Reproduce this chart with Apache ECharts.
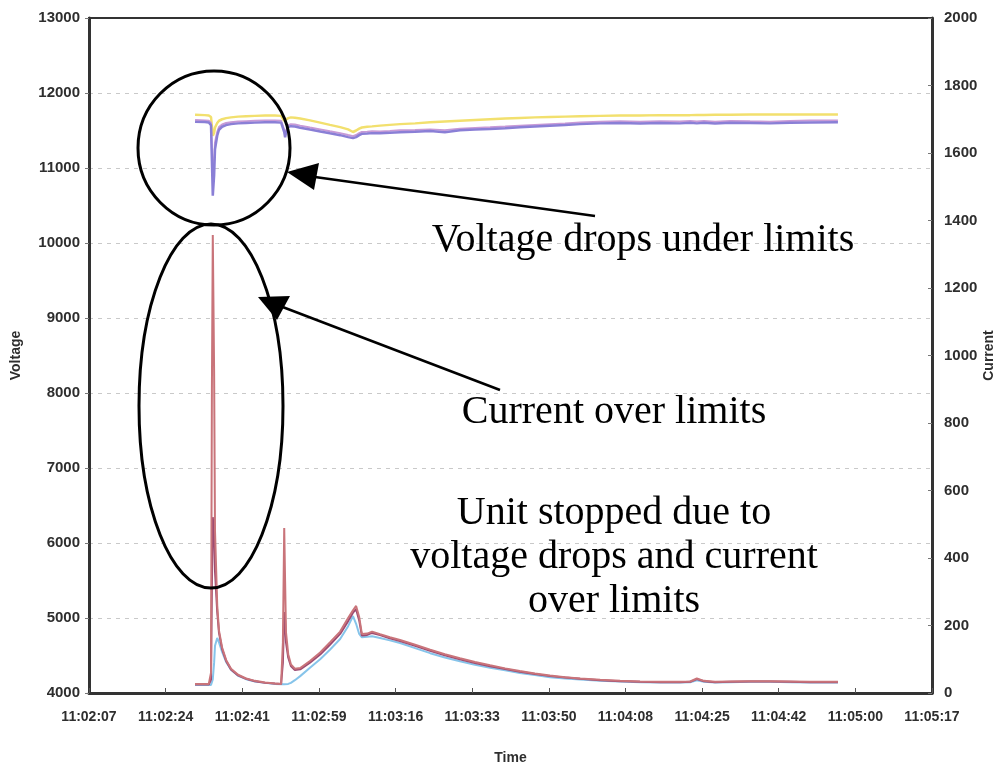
<!DOCTYPE html>
<html>
<head>
    <meta charset="utf-8">
    <title>Voltage / Current</title>
    <script src="https://cdn.jsdelivr.net/npm/echarts@6.0.0/dist/echarts.min.js"></script>
    <style>
        html, body { margin: 0; padding: 0; background: #fff; }
        #chart { width: 997px; height: 769px; }
    </style>
</head>
<body>
    <div id="chart"></div>

    <script>
        // time axis: seconds elapsed from the first tick (11:02:07)
        const timeLabels = ['11:02:07', '11:02:24', '11:02:41', '11:02:59', '11:03:16', '11:03:33',
            '11:03:50', '11:04:08', '11:04:25', '11:04:42', '11:05:00', '11:05:17'];
        const axisSpan = 190;

        const seconds = [23.9, 26.1, 27.0, 27.5, 27.7, 27.9, 28.2, 28.4, 28.9, 29.3, 30.0, 30.9, 32.0, 33.6,
            35.4, 37.4, 39.7, 41.9, 43.3, 43.7, 44.0, 44.2, 44.4, 44.9, 45.5, 46.4, 47.6, 49.8, 52.1, 54.3,
            56.6, 58.4, 59.5, 60.2, 60.9, 61.5, 62.7, 63.8, 65.6, 67.8, 70.1, 73.5, 76.9, 80.2, 83.6, 87.0,
            90.4, 93.8, 97.1, 100.5, 103.9, 107.3, 110.7, 115.2, 119.7, 124.2, 128.7, 133.2, 135.5, 137.0,
            138.6, 141.1, 144.5, 149.0, 153.5, 158.0, 162.5, 168.8];

        // voltage (left axis)
        const voltageA = [11710, 11705, 11700, 11680, 11560, 11430, 11470, 11540, 11600, 11630, 11650, 11665,
            11675, 11685, 11690, 11695, 11700, 11700, 11695, 11680, 11630, 11610, 11640, 11665, 11675, 11670,
            11660, 11635, 11605, 11575, 11545, 11515, 11480, 11500, 11525, 11540, 11550, 11555, 11565, 11575,
            11585, 11595, 11610, 11620, 11630, 11640, 11650, 11660, 11668, 11675, 11680, 11685, 11690, 11695,
            11700, 11700, 11705, 11705, 11705, 11708, 11708, 11710, 11710, 11712, 11712, 11715, 11715, 11715];
        const voltageB = [11640, 11635, 11630, 11600, 11250, 10880, 11100, 11340, 11480, 11545, 11580, 11600,
            11610, 11620, 11625, 11630, 11635, 11635, 11630, 11615, 11510, 11440, 11495, 11570, 11585, 11580,
            11565, 11540, 11515, 11490, 11465, 11440, 11425, 11440, 11465, 11480, 11485, 11490, 11488, 11495,
            11503, 11508, 11515, 11505, 11525, 11535, 11543, 11553, 11565, 11575, 11585, 11595, 11608, 11618,
            11625, 11618, 11625, 11620, 11628, 11620, 11626, 11618, 11628, 11622, 11618, 11626, 11632, 11634];
        const voltageC = [11615, 11612, 11608, 11570, 11100, 10630, 10900, 11250, 11430, 11510, 11550, 11572,
            11585, 11595, 11600, 11605, 11610, 11610, 11605, 11590, 11480, 11410, 11470, 11545, 11558, 11552,
            11538, 11512, 11488, 11462, 11438, 11412, 11398, 11412, 11438, 11455, 11460, 11465, 11462, 11470,
            11478, 11484, 11492, 11478, 11502, 11512, 11520, 11530, 11542, 11552, 11562, 11572, 11585, 11595,
            11600, 11592, 11600, 11595, 11603, 11595, 11602, 11592, 11603, 11600, 11595, 11603, 11608, 11610];

        // current (right axis)
        const currentA = [27, 27, 27, 60, 900, 1357, 950, 480, 260, 185, 135, 98, 72, 54, 43, 36, 31, 28, 27,
            150, 489, 330, 180, 115, 85, 72, 74, 95, 120, 150, 182, 222, 245, 258, 225, 175, 176, 182, 174,
            165, 157, 143, 128, 115, 103, 92, 82, 73, 65, 58, 52, 47, 43, 39, 36, 34, 33, 33, 34, 43, 36, 33,
            34, 35, 35, 34, 33, 33];
        const currentB = [25, 25, 25, 40, 320, 521, 470, 360, 240, 178, 130, 95, 70, 52, 42, 35, 30, 28, 27,
            90, 240, 215, 150, 105, 80, 68, 70, 90, 114, 143, 175, 213, 238, 248, 215, 170, 172, 178, 172,
            162, 154, 140, 125, 112, 100, 89, 79, 71, 63, 56, 50, 46, 42, 38, 35, 33, 32, 32, 33, 41, 35, 32,
            33, 34, 34, 33, 32, 32];
        const currentC = [24, 24, 24, 24, 25, 40, 90, 140, 163, 150, 122, 92, 69, 51, 41, 34, 30, 27, 26, 26,
            26, 26, 26, 27, 30, 38, 50, 75, 100, 128, 160, 198, 228, 205, 175, 165, 167, 168, 163, 156, 148,
            133, 118, 105, 94, 84, 75, 67, 59, 53, 47, 43, 40, 36, 34, 32, 31, 31, 32, 38, 33, 31, 32, 33, 33,
            32, 31, 31];

        const pairs = arr => seconds.map((t, i) => [t, arr[i]]);
        const step = axisSpan / (timeLabels.length - 1);

        const axisFont = { fontFamily: 'Liberation Sans, Arial, sans-serif', fontWeight: 'bold', color: '#2e2e2e' };
        const serif = 'Liberation Serif, Times New Roman, serif';

        const chart = echarts.init(document.getElementById('chart'));

        function line(name, data, color, width, axis) {
            return {
                name: name,
                type: 'line',
                yAxisIndex: axis,
                data: pairs(data),
                showSymbol: false,
                symbol: 'none',
                lineStyle: { color: color, width: width },
                itemStyle: { color: color }
            };
        }

        chart.setOption({
            animation: false,
            grid: {
                left: 89, right: 65, top: 18, bottom: 76,
                outerBoundsMode: 'none',
                show: true, borderColor: '#333', borderWidth: 2, backgroundColor: '#fff'
            },
            xAxis: {
                type: 'value',
                min: 0,
                max: axisSpan,
                interval: step,
                name: 'Time',
                nameLocation: 'middle',
                nameGap: 58,
                nameMoveOverlap: false,
                nameTextStyle: Object.assign({ fontSize: 14 }, axisFont),
                axisLine: { lineStyle: { color: '#333', width: 3 } },
                axisTick: { inside: true, length: 5, lineStyle: { color: '#555' } },
                axisLabel: Object.assign({
                    fontSize: 14, margin: 17,
                    formatter: v => timeLabels[Math.round(v / step)] || ''
                }, axisFont),
                splitLine: { show: false }
            },
            yAxis: [{
                type: 'value',
                min: 4000,
                max: 13000,
                interval: 1000,
                name: 'Voltage',
                nameLocation: 'middle',
                nameRotate: 90,
                nameGap: 66,
                nameMoveOverlap: false,
                nameTextStyle: Object.assign({ fontSize: 14 }, axisFont),
                axisLine: { show: true, lineStyle: { color: '#333', width: 3 } },
                axisTick: { show: true, length: 4, lineStyle: { color: '#777' } },
                axisLabel: Object.assign({ fontSize: 15, margin: 9, formatter: v => String(v) }, axisFont),
                splitLine: {
                    show: true, showMinLine: false, showMaxLine: false,
                    lineStyle: { color: '#c9c9c9', type: [4, 5], width: 1 }
                }
            }, {
                type: 'value',
                min: 0,
                max: 2000,
                interval: 200,
                position: 'right',
                name: 'Current',
                nameLocation: 'middle',
                nameRotate: 90,
                nameGap: 50,
                nameMoveOverlap: false,
                nameTextStyle: Object.assign({ fontSize: 14 }, axisFont),
                axisLine: { show: true, lineStyle: { color: '#333', width: 3 } },
                axisTick: { show: true, inside: true, length: 4, lineStyle: { color: '#777' } },
                axisLabel: Object.assign({ fontSize: 15, margin: 12, formatter: v => String(v) }, axisFont),
                splitLine: { show: false }
            }],
            series: [
                line('V1', voltageA, '#f2e06e', 2.5, 0),
                line('V2', voltageB, '#c89ad6', 2, 0),
                line('V3', voltageC, '#8a7fd6', 2.5, 0),
                line('I3', currentC, '#86c4ea', 2, 1),
                line('I2', currentB, '#9c4a72', 2, 1),
                line('I1', currentA, '#c9747a', 2, 1)
            ],
            graphic: [
                { type: 'ellipse', shape: { cx: 214, cy: 148, rx: 76, ry: 77 },
                  style: { fill: 'none', stroke: '#000', lineWidth: 3 }, z: 100 },
                { type: 'ellipse', shape: { cx: 211, cy: 406, rx: 72, ry: 182 },
                  style: { fill: 'none', stroke: '#000', lineWidth: 3 }, z: 100 },
                { type: 'line', shape: { x1: 595, y1: 216, x2: 315, y2: 177 },
                  style: { stroke: '#000', lineWidth: 2.5 }, z: 100 },
                { type: 'polygon', shape: { points: [[287, 172], [319, 163], [314, 190]] },
                  style: { fill: '#000' }, z: 100 },
                { type: 'line', shape: { x1: 500, y1: 390, x2: 280, y2: 306 },
                  style: { stroke: '#000', lineWidth: 2.5 }, z: 100 },
                { type: 'polygon', shape: { points: [[258, 297], [290, 296], [277, 320]] },
                  style: { fill: '#000' }, z: 100 },
                { type: 'text', x: 643, y: 240, z: 100,
                  style: { text: 'Voltage drops under limits', font: '40px ' + serif, fill: '#000',
                           textAlign: 'center', textVerticalAlign: 'middle' } },
                { type: 'text', x: 614, y: 412, z: 100,
                  style: { text: 'Current over limits', font: '40px ' + serif, fill: '#000',
                           textAlign: 'center', textVerticalAlign: 'middle' } },
                { type: 'text', x: 614, y: 557, z: 100,
                  style: { text: 'Unit stopped due to\nvoltage drops and current\nover limits',
                           font: '40px ' + serif, lineHeight: 44, fill: '#000',
                           textAlign: 'center', textVerticalAlign: 'middle' } }
            ]
        });
    </script>
</body>
</html>
